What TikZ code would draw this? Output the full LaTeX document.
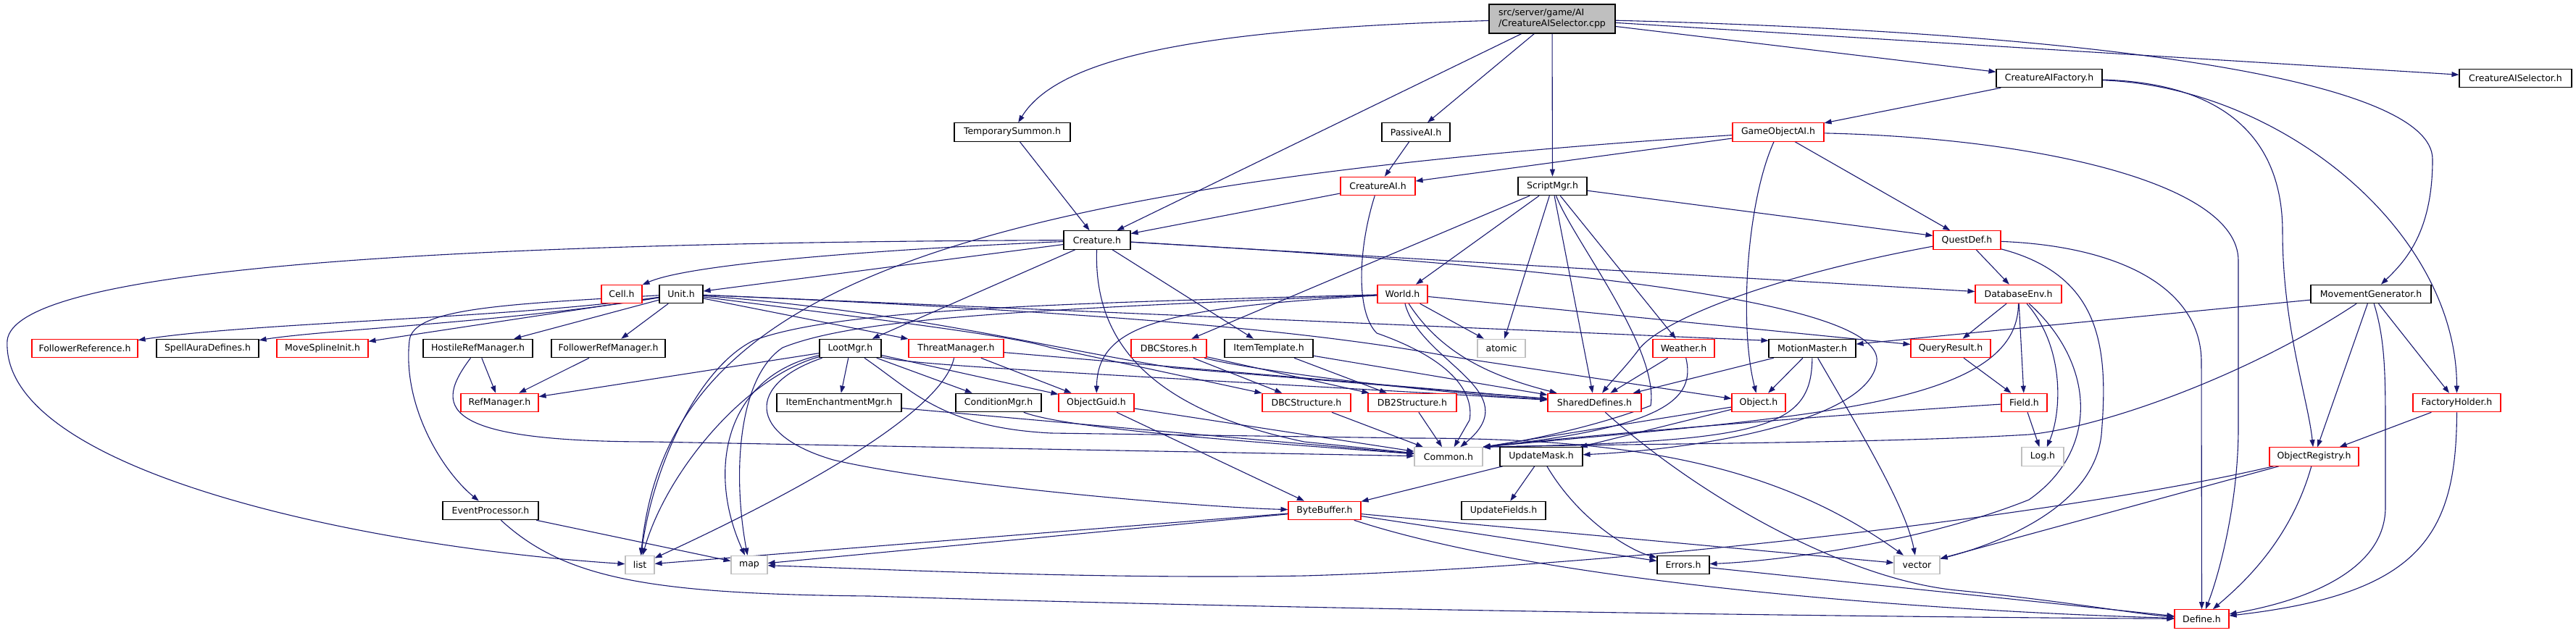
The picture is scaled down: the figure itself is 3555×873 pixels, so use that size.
\documentclass[tikz,border=0pt]{standalone}
\usepackage{fontspec}
\setmainfont{DejaVu Sans}
\usetikzlibrary{arrows.meta}
\definecolor{edgec}{HTML}{191970}
\definecolor{nred}{HTML}{FF0000}
\definecolor{ngrey}{HTML}{BFBFBF}
\pgfdeclarelayer{edgelayer}
\pgfsetlayers{edgelayer,main}
\tikzset{
  nb/.style={draw=black, line width=1.1pt, fill=white, minimum height=25.5pt, inner sep=0pt,
    font=\fontsize{12.5pt}{15pt}\selectfont},
  nr/.style={nb, draw=nred},
  ng/.style={nb, draw=ngrey},
  e/.style={draw=edgec, line width=1.1pt, -{Triangle[length=10pt,width=7pt]}},
}
\begin{document}
\begin{tikzpicture}[x=1pt,y=-1pt]
\begin{pgfonlayer}{edgelayer}
\fill[white] (0,0) rectangle (3555,873);
\end{pgfonlayer}
\useasboundingbox (0,0) rectangle (3555,873);
\node[nb, fill=ngrey, minimum width=174pt, minimum height=40pt, align=left] (root) at (2142,26) {src/server/game/AI\\/CreatureAISelector.cpp};
\node[nb, minimum width=146pt] (caif) at (2828,108) {CreatureAIFactory.h};
\node[nb, minimum width=155pt] (cas) at (3471.5,108) {CreatureAISelector.h};
\node[nb, minimum width=160pt] (tsum) at (1397,182.5) {TemporarySummon.h};
\node[nb, minimum width=94pt] (passive) at (1954,182.5) {PassiveAI.h};
\node[nr, minimum width=126pt] (goai) at (2454,182.5) {GameObjectAI.h};
\node[nr, minimum width=103pt] (cai) at (1901.5,257) {CreatureAI.h};
\node[nb, minimum width=95pt] (smgr) at (2142.5,257) {ScriptMgr.h};
\node[nr, minimum width=93pt] (qdef) at (2714.5,331.5) {QuestDef.h};
\node[nb, minimum width=92pt] (creature) at (1514,331.5) {Creature.h};
\node[nr, minimum width=56pt] (cell) at (858,406) {Cell.h};
\node[nb, minimum width=60pt] (unit) at (940,406) {Unit.h};
\node[nr, minimum width=69pt] (world) at (1935.5,406) {World.h};
\node[nr, minimum width=119pt] (dbenv) at (2785.5,406) {DatabaseEnv.h};
\node[nb, minimum width=166pt] (movgen) at (3272,406) {MovementGenerator.h};
\node[nr, minimum width=146pt] (folref) at (117,481) {FollowerReference.h};
\node[nb, minimum width=141pt] (spellaura) at (286.5,481) {SpellAuraDefines.h};
\node[nr, minimum width=126pt] (msi) at (445,481) {MoveSplineInit.h};
\node[nb, minimum width=151pt] (hostile) at (659.5,481) {HostileRefManager.h};
\node[nb, minimum width=157pt] (folrefmgr) at (839.5,481) {FollowerRefManager.h};
\node[nb, minimum width=85pt] (loot) at (1173.5,481) {LootMgr.h};
\node[nr, minimum width=131pt] (threat) at (1319.5,481) {ThreatManager.h};
\node[nr, minimum width=104pt] (dbcst) at (1613,481) {DBCStores.h};
\node[nb, minimum width=122pt] (itemtpl) at (1751,481) {ItemTemplate.h};
\node[ng, minimum width=66pt] (atomic) at (2072,481) {atomic};
\node[nr, minimum width=85pt] (weather) at (2323.5,481) {Weather.h};
\node[nb, minimum width=120pt] (motion) at (2501,481) {MotionMaster.h};
\node[nr, minimum width=110pt] (qres) at (2692,481) {QueryResult.h};
\node[nr, minimum width=107pt] (refmgr) at (689.5,556) {RefManager.h};
\node[nb, minimum width=172pt] (itemench) at (1158,556) {ItemEnchantmentMgr.h};
\node[nb, minimum width=118pt] (condmgr) at (1378,556) {ConditionMgr.h};
\node[nr, minimum width=104pt] (guid) at (1513,556) {ObjectGuid.h};
\node[nr, minimum width=122pt] (dbcstr) at (1803,556) {DBCStructure.h};
\node[nr, minimum width=122pt] (db2str) at (1949,556) {DB2Structure.h};
\node[nr, minimum width=129pt] (shared) at (2200.5,556) {SharedDefines.h};
\node[nr, minimum width=74pt] (object) at (2427,556) {Object.h};
\node[nr, minimum width=63pt] (field) at (2793.5,556) {Field.h};
\node[nr, minimum width=121pt] (facth) at (3390.5,556) {FactoryHolder.h};
\node[ng, minimum width=94pt] (common) at (1999,630.5) {Common.h};
\node[nb, minimum width=114pt] (umask) at (2127,630.5) {UpdateMask.h};
\node[ng, minimum width=58pt] (log) at (2819,630.5) {Log.h};
\node[nr, minimum width=123pt] (objreg) at (3193.5,630.5) {ObjectRegistry.h};
\node[nb, minimum width=132pt] (eventp) at (677,705) {EventProcessor.h};
\node[nr, minimum width=100pt] (bbuf) at (1828,705) {ByteBuffer.h};
\node[nb, minimum width=116pt] (ufields) at (2075,705) {UpdateFields.h};
\node[ng, minimum width=40pt] (list) at (883,780) {list};
\node[ng, minimum width=50pt] (map) at (1034,780) {map};
\node[nb, minimum width=72pt] (errors) at (2323,780) {Errors.h};
\node[ng, minimum width=63pt] (vector) at (2645.5,780) {vector};
\node[nr, minimum width=75pt] (define) at (3038.5,854.5) {Define.h};

\begin{pgfonlayer}{edgelayer}
% root
\draw[e] (root) .. controls (1650,40) and (1460,80) .. (tsum);
\draw[e] (root) -- (creature);
\draw[e] (root) -- (passive);
\draw[e] (root) -- (smgr);
\draw[e] (root) -- (caif);
\draw[e] (root) -- (cas);
\draw[e] (root) .. controls (2900,45) and (3357,110) .. (3357,220) .. controls (3357,320) and (3320,360) .. (movgen);
\draw[e] (tsum) -- (creature);
\draw[e] (passive) -- (cai);
% CreatureAIFactory
\draw[e] (caif) -- (goai);
\draw[e] (caif) .. controls (3080,115) and (3150,200) .. (3150,320) .. controls (3150,450) and (3185,550) .. (objreg);
\draw[e] (caif) .. controls (3150,120) and (3390,320) .. (facth);
% GameObjectAI
\draw[e] (goai) -- (cai);
\draw[e] (goai) .. controls (1250,260) and (920,420) .. (list);
\draw[e] (goai) -- (qdef);
\draw[e] (goai) .. controls (2410,280) and (2400,450) .. (object);
\draw[e] (goai) .. controls (2800,190) and (3089,250) .. (3089,360) -- (3089,590) .. controls (3089,700) and (3060,800) .. (define);
% CreatureAI
\draw[e] (cai) -- (creature);
\draw[e] (cai) .. controls (1875,340) and (1870,430) .. (1900,460) .. controls (2000,495) and (2035,540) .. (2028,580) -- (common);
% ScriptMgr
\draw[e] (smgr) -- (dbcst);
\draw[e] (smgr) -- (world);
\draw[e] (smgr) -- (atomic);
\draw[e] (smgr) -- (shared);
\draw[e] (smgr) -- (weather);
\draw[e] (smgr) -- (qdef);
\draw[e] (smgr) .. controls (2170,330) and (2290,480) .. (2278,560) .. controls (2200,590) and (2100,610) .. (common.north east);
% QuestDef
\draw[e] (qdef) -- (dbenv);
\draw[e] (qdef) .. controls (2450,380) and (2295,440) .. (2262,482) .. controls (2245,505) and (2225,525) .. (shared);
\draw[e] (qdef) .. controls (2900,380) and (2910,480) .. (2900,600) .. controls (2890,700) and (2760,750) .. (vector);
\draw[e] (qdef) .. controls (2930,340) and (3038,400) .. (3038,500) -- (define);
% Creature
\draw[e] (creature) .. controls (1200,345) and (950,365) .. (cell);
\draw[e] (creature) -- (unit);
\draw[e] (creature) .. controls (500,335) and (20,380) .. (10,470) .. controls (0,650) and (500,755) .. (list);
\draw[e] (creature) -- (loot);
\draw[e] (creature) -- (itemtpl);
\draw[e] (creature) .. controls (1510,450) and (1560,560) .. (1800,610) -- (common);
\draw[e] (creature) -- (dbenv);
\draw[e] (creature) .. controls (2200,370) and (2600,420) .. (2590,500) .. controls (2580,580) and (2350,620) .. (umask);
% Unit
\draw[e] (unit) .. controls (700,440) and (350,445) .. (folref);
\draw[e] (unit) .. controls (700,445) and (450,455) .. (spellaura);
\draw[e] (unit) -- (msi);
\draw[e] (unit) -- (hostile);
\draw[e] (unit) -- (folrefmgr);
\draw[e] (unit) .. controls (700,420) and (570,425) .. (565,470) .. controls (555,560) and (610,650) .. (eventp);
\draw[e] (unit) -- (threat);
\draw[e] (unit) -- (motion.170);
\draw[e] (unit) .. controls (1500,430) and (1800,455) .. (2000,492) -- (object);
\draw[e] (unit) .. controls (1200,440) and (1390,462) .. (1450,480) -- (dbcstr);
\draw[e] (unit) .. controls (1250,430) and (1420,475) .. (1620,508) -- (shared);
% LootMgr
\draw[e] (loot) -- (refmgr);
\draw[e] (loot) -- (itemench);
\draw[e] (loot) -- (condmgr);
\draw[e] (loot) -- (guid);
\draw[e] (loot) .. controls (1030,520) and (920,650) .. (list);
\draw[e] (loot) .. controls (1000,520) and (975,650) .. (map);
\draw[e] (loot) .. controls (1030,530) and (1030,600) .. (1150,635) .. controls (1300,670) and (1650,700) .. (bbuf);
\draw[e] (loot) .. controls (1260,505) and (1500,515) .. (shared);
\draw[e] (loot) .. controls (1260,540) and (1300,590) .. (1450,598) -- (1950,605) .. controls (2250,605) and (2450,640) .. (vector);
% ThreatManager
\draw[e] (threat) .. controls (1300,570) and (1100,680) .. (list);
\draw[e] (threat) -- (guid);
\draw[e] (threat) -- (shared);
% DBC etc.
\draw[e] (dbcst) -- (dbcstr);
\draw[e] (dbcst) -- (db2str);
\draw[e] (dbcst) .. controls (1720,510) and (1950,540) .. (shared);
\draw[e] (itemtpl) -- (db2str);
\draw[e] (itemtpl) -- (shared);
\draw[e] (dbcstr) -- (common);
\draw[e] (db2str) -- (common);
\draw[e] (guid) -- (bbuf);
\draw[e] (guid) -- (common);
\draw[e] (condmgr) .. controls (1480,595) and (1800,615) .. (common);
\draw[e] (itemench) -- (common);
\draw[e] (hostile) -- (refmgr);
\draw[e] (hostile) .. controls (600,560) and (600,610) .. (900,610) -- (common);
\draw[e] (folrefmgr) -- (refmgr);
\draw[e] (eventp) -- (map);
\draw[e] (eventp) .. controls (780,800) and (900,820) .. (1200,823) .. controls (1800,842) and (2600,852) .. (define);
% World
\draw[e] (world) .. controls (1400,420) and (1150,430) .. (1040,470) .. controls (960,510) and (900,650) .. (list);
\draw[e] (world) .. controls (1400,428) and (1180,440) .. (1080,480) .. controls (1020,520) and (1010,650) .. (map);
\draw[e] (world) .. controls (1600,425) and (1515,450) .. (guid);
\draw[e] (world) .. controls (1960,500) and (2110,540) .. (common);
\draw[e] (world) .. controls (1990,490) and (2060,520) .. (shared);
\draw[e] (world) -- (atomic);
\draw[e] (world) -- (qres);
% Weather, MotionMaster
\draw[e] (weather) -- (shared);
\draw[e] (weather) .. controls (2340,550) and (2300,590) .. (common.north east);
\draw[e] (motion) -- (shared);
\draw[e] (motion) -- (object);
\draw[e] (motion) .. controls (2500,590) and (2440,610) .. (common.north east);
\draw[e] (motion) .. controls (2570,600) and (2630,700) .. (vector);
% DatabaseEnv
\draw[e] (dbenv) -- (qres);
\draw[e] (dbenv) -- (field);
\draw[e] (dbenv) .. controls (2850,480) and (2845,570) .. (log);
\draw[e] (dbenv) .. controls (2785,560) and (2500,575) .. (common.north east);
\draw[e] (dbenv) .. controls (2890,500) and (2900,620) .. (2800,690) .. controls (2650,750) and (2450,775) .. (errors);
\draw[e] (qres) -- (field);
\draw[e] (field) -- (log);
\draw[e] (field) .. controls (2500,575) and (2200,600) .. (common.north east);
\draw[e] (object) -- (common.north east);
\draw[e] (object) -- (umask);
\draw[e] (shared) .. controls (2350,690) and (2550,800) .. (2700,815) .. controls (2850,830) and (2950,848) .. (define);
% UpdateMask, ByteBuffer
\draw[e] (umask) -- (bbuf);
\draw[e] (umask) -- (ufields);
\draw[e] (umask) .. controls (2180,720) and (2250,760) .. (errors);
\draw[e] (bbuf) -- (list);
\draw[e] (bbuf) -- (map);
\draw[e] (bbuf) -- (vector);
\draw[e] (bbuf) -- (errors);
\draw[e] (bbuf) .. controls (2150,810) and (2700,845) .. (define);
\draw[e] (errors) -- (define);
% registry / factory / movement
\draw[e] (objreg) .. controls (3160,750) and (3090,810) .. (define);
\draw[e] (objreg) .. controls (2900,700) and (2300,780) .. (1800,795) .. controls (1500,800) and (1200,785) .. (map);
\draw[e] (objreg) -- (vector);
\draw[e] (facth) -- (objreg);
\draw[e] (facth) .. controls (3390,740) and (3340,820) .. (define);
\draw[e] (movgen) -- (motion);
\draw[e] (movgen) -- (objreg);
\draw[e] (movgen) -- (facth);
\draw[e] (movgen) .. controls (3292,470) and (3292,520) .. (3292,600) -- (3292,700) .. controls (3292,800) and (3150,835) .. (define);
\draw[e] (movgen) .. controls (3100,520) and (2900,590) .. (2800,600) .. controls (2600,612) and (2300,612) .. (common.north east);
\end{pgfonlayer}
\end{tikzpicture}
\end{document}
